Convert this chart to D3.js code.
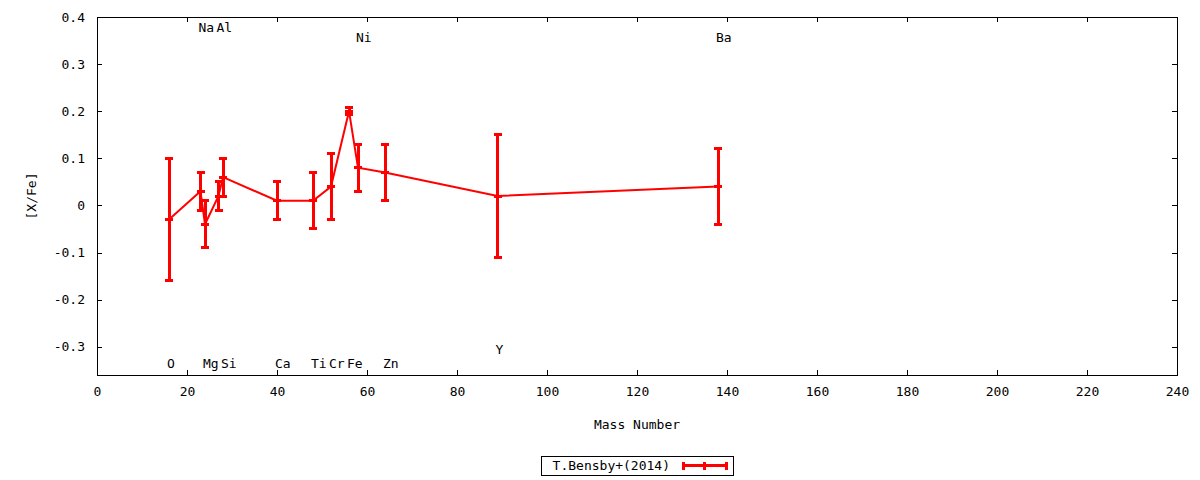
<!DOCTYPE html>
<html>
<head>
<meta charset="utf-8">
<script src="https://cdn.jsdelivr.net/npm/d3@7"></script>
<style>
  body { margin: 0; background: #fff; }
  svg text { font-family: "DejaVu Sans Mono", monospace; font-size: 13px; fill: #000; }
</style>
</head>
<body>
<div id="chart"></div>
<script>
// Abundance ratios vs mass number
const massNumbers = [16, 23, 24, 27, 28, 40, 48, 52, 56, 58, 64, 89, 138];
const xFe = [-0.03, 0.03, -0.04, 0.02, 0.06, 0.01, 0.01, 0.04, 0.2, 0.08, 0.07, 0.02, 0.04];
const xFeErr = [0.13, 0.04, 0.05, 0.03, 0.04, 0.04, 0.06, 0.07, 0.008, 0.05, 0.06, 0.13, 0.08];

// Element labels (left-justified at mass number)
const labelNames = ["O", "Na", "Mg", "Al", "Si", "Ca", "Ti", "Cr", "Fe", "Ni", "Zn", "Y", "Ba"];
const labelMass = [16, 23, 24, 27, 28, 40, 48, 52, 56, 58, 64, 89, 138];
const labelY = [-0.335, 0.378, -0.335, 0.378, -0.335, -0.335, -0.335, -0.335, -0.335, 0.356, -0.335, -0.305, 0.356];

const xTicks = [0, 20, 40, 60, 80, 100, 120, 140, 160, 180, 200, 220, 240];
const yTicks = [-0.3, -0.2, -0.1, 0, 0.1, 0.2, 0.3, 0.4];
const seriesName = "T.Bensby+(2014)";

const width = 1200;
const height = 480;
const margin = { top: 17, right: 23, bottom: 105, left: 97 };
const red = "#ff0000";

const x = d3.scaleLinear().domain([0, 240]).range([margin.left, width - margin.right]);
const y = d3.scaleLinear().domain([-0.36, 0.4]).range([height - margin.bottom, margin.top]);

const svg = d3.select("#chart").append("svg")
  .attr("width", width)
  .attr("height", height);

const fmtY = (d) => (d === 0 ? "0" : d.toFixed(1));
const tick = 5;

// Axes (ticks point inward, mirrored on top/right)
svg.append("g")
  .attr("transform", `translate(0,${height - margin.bottom})`)
  .call(d3.axisBottom(x).tickValues(xTicks).tickSize(-tick).tickPadding(12).tickFormat(d3.format("d")))
  .call((g) => g.select(".domain").remove());

svg.append("g")
  .attr("transform", `translate(0,${margin.top})`)
  .call(d3.axisTop(x).tickValues(xTicks).tickSize(-tick).tickFormat(""))
  .call((g) => g.select(".domain").remove());

svg.append("g")
  .attr("transform", `translate(${margin.left},0)`)
  .call(d3.axisLeft(y).tickValues(yTicks).tickSize(-tick).tickPadding(12).tickFormat(fmtY))
  .call((g) => g.select(".domain").remove());

svg.append("g")
  .attr("transform", `translate(${width - margin.right},0)`)
  .call(d3.axisRight(y).tickValues(yTicks).tickSize(-tick).tickFormat(""))
  .call((g) => g.select(".domain").remove());

svg.selectAll(".tick line").attr("stroke", "#000").attr("shape-rendering", "crispEdges");
svg.selectAll(".tick text").style("font-size", "13px").style("font-family", "DejaVu Sans Mono");

// Border
svg.append("rect")
  .attr("x", x(0))
  .attr("y", y(0.4))
  .attr("width", x(240) - x(0))
  .attr("height", y(-0.36) - y(0.4))
  .attr("fill", "none")
  .attr("stroke", "#000")
  .attr("stroke-width", 1)
  .attr("shape-rendering", "crispEdges");

// Axis titles
svg.append("text")
  .attr("x", (x(0) + x(240)) / 2)
  .attr("y", 429)
  .attr("text-anchor", "middle")
  .text("Mass Number");

svg.append("text")
  .attr("transform", `translate(36,${(y(0.4) + y(-0.36)) / 2}) rotate(-90)`)
  .attr("text-anchor", "middle")
  .text("[X/Fe]");

// Element labels
svg.append("g")
  .selectAll("text")
  .data(labelNames)
  .join("text")
  .attr("x", (d, i) => x(labelMass[i]) - 2)
  .attr("y", (d, i) => y(labelY[i]))
  .attr("dy", "0.35em")
  .text((d) => d);

// Data
const points = massNumbers.map((m, i) => ({ m, v: xFe[i], e: xFeErr[i] }));
const capW = 4;

const line = d3.line().x((d) => x(d.m)).y((d) => y(d.v));
svg.append("path")
  .datum(points)
  .attr("fill", "none")
  .attr("stroke", red)
  .attr("stroke-width", 2)
  .attr("d", line);

const gBars = svg.append("g")
  .attr("stroke", red)
  .attr("stroke-width", 3)
  .attr("shape-rendering", "crispEdges");
const bar = gBars.selectAll("g").data(points).join("g");
bar.append("line")
  .attr("x1", (d) => x(d.m)).attr("x2", (d) => x(d.m))
  .attr("y1", (d) => y(d.v - d.e)).attr("y2", (d) => y(d.v + d.e));
bar.append("line")
  .attr("x1", (d) => x(d.m) - capW).attr("x2", (d) => x(d.m) + capW)
  .attr("y1", (d) => y(d.v + d.e)).attr("y2", (d) => y(d.v + d.e));
bar.append("line")
  .attr("x1", (d) => x(d.m) - capW).attr("x2", (d) => x(d.m) + capW)
  .attr("y1", (d) => y(d.v - d.e)).attr("y2", (d) => y(d.v - d.e));
// point marker (plus)
bar.append("line")
  .attr("x1", (d) => x(d.m) - capW).attr("x2", (d) => x(d.m) + capW)
  .attr("y1", (d) => y(d.v)).attr("y2", (d) => y(d.v));
bar.append("line")
  .attr("x1", (d) => x(d.m)).attr("x2", (d) => x(d.m))
  .attr("y1", (d) => y(d.v) - capW).attr("y2", (d) => y(d.v) + capW);

// Legend
const legend = svg.append("g").attr("transform", "translate(541,456)");
legend.append("rect")
  .attr("width", 192)
  .attr("height", 19)
  .attr("fill", "none")
  .attr("stroke", "#000")
  .attr("shape-rendering", "crispEdges");
legend.append("text")
  .attr("x", 129)
  .attr("y", 9.5)
  .attr("dy", "0.35em")
  .attr("text-anchor", "end")
  .text(seriesName);
const lg = legend.append("g")
  .attr("stroke", red)
  .attr("stroke-width", 3)
  .attr("shape-rendering", "crispEdges");
lg.append("line").attr("x1", 142).attr("x2", 185).attr("y1", 9.5).attr("y2", 9.5);
[142, 163.5, 185].forEach((px) => {
  lg.append("line").attr("x1", px).attr("x2", px).attr("y1", 5.5).attr("y2", 13.5);
});
</script>
</body>
</html>
